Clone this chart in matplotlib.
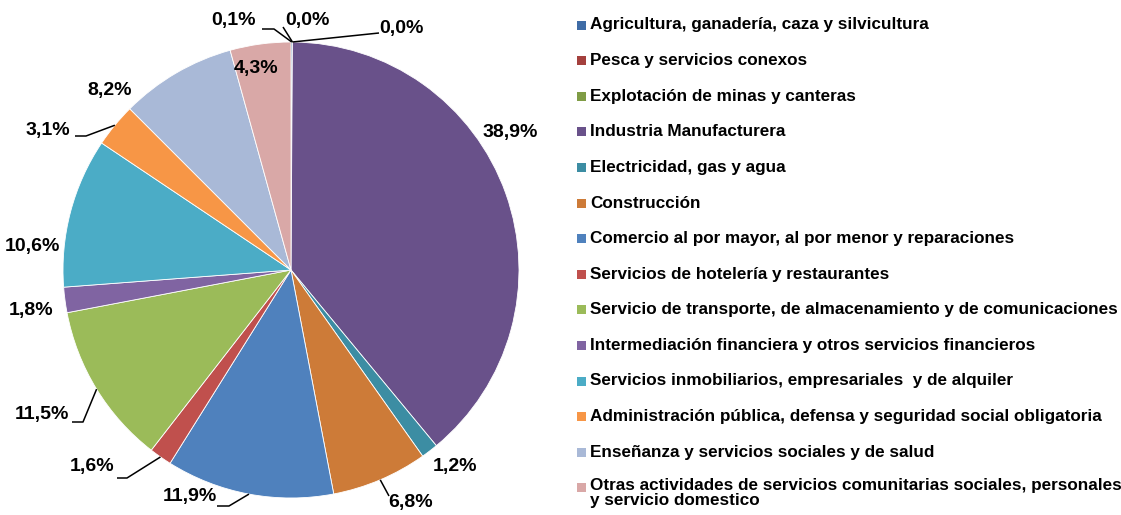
import matplotlib.pyplot as plt
from matplotlib.patches import Rectangle
import numpy as np

# Participación por actividad económica (%)
categories = [
    'Agricultura, ganadería, caza y silvicultura',
    'Pesca y servicios conexos',
    'Explotación de minas y canteras',
    'Industria Manufacturera',
    'Electricidad, gas y agua',
    'Construcción',
    'Comercio al por mayor, al por menor y reparaciones',
    'Servicios de hotelería y restaurantes',
    'Servicio de transporte, de almacenamiento y de comunicaciones',
    'Intermediación financiera y otros servicios financieros',
    'Servicios inmobiliarios, empresariales  y de alquiler',
    'Administración pública, defensa y seguridad social obligatoria',
    'Enseñanza y servicios sociales y de salud',
    'Otras actividades de servicios comunitarias sociales, personales\ny servicio domestico',
]
shares = [0.1, 0.0, 0.0, 38.9, 1.2, 6.8, 11.9, 1.6, 11.5, 1.8, 10.6, 3.1, 8.2, 4.3]

colors = ['#3F6CA6', '#A4403D', '#7F9C45', '#69518A', '#3C8DA3', '#CD7B38',
          '#4F81BD', '#C0504D', '#9BBB59', '#8064A2', '#4BACC6', '#F79646',
          '#A9B9D7', '#D9A8A7']

W, H = 1121, 515
fig = plt.figure(figsize=(W / 100, H / 100), dpi=100)
ax = fig.add_axes([0, 0, 1, 1])

cx, cy, R = 291, H - 270, 228
wedges, _ = ax.pie(shares, colors=colors, center=(cx, cy), radius=R,
                   startangle=90, counterclock=False,
                   wedgeprops=dict(linewidth=0.6, edgecolor='white'))
ax.set_xlim(0, W)
ax.set_ylim(0, H)
ax.set_aspect('equal', adjustable='box')
ax.axis('off')

# label positions in pixels (x, y from top) and leader line bend points
label_pos = [(233, 21), (307, 21), (401, 29), (510, 132), (455, 467), (411, 503),
             (190, 497), (92, 467), (42, 414), (31, 311), (32, 246), (48, 130),
             (110, 90), (256, 68)]
leaders = {
    0: [(262, 29), (274, 29)],
    1: [(283, 27)],
    2: [(379, 33)],
    5: [(389, 496)],
    6: [(217, 506), (229, 506)],
    7: [(117, 478), (127, 478)],
    8: [(72, 422), (83, 422)],
    11: [(75, 136), (86, 136)],
}

fs = 14
for i, (w, v) in enumerate(zip(wedges, shares)):
    txt = f'{v:.1f}%'.replace('.', ',')
    px, py = label_pos[i]
    ax.text(px, H - py, txt, ha='center', va='center', fontsize=fs,
            fontweight='bold', family='Liberation Sans')
    if i in leaders:
        ang = np.deg2rad((w.theta1 + w.theta2) / 2)
        ex, ey = cx + R * np.cos(ang), cy + R * np.sin(ang)
        pts = [(x, H - y) for x, y in leaders[i]] + [(ex, ey)]
        xs, ys = zip(*pts)
        ax.plot(xs, ys, color='black', lw=1.1, solid_capstyle='butt')

# legend
ly0, dy = 25, 35.6
lfs = 12.3
for i, (lab, c) in enumerate(zip(categories, colors)):
    y = ly0 + i * dy
    ax.add_patch(Rectangle((577, H - y - 4.5), 9, 9, color=c, lw=0))
    if '\n' in lab:
        ax.text(590, H - y + 9.5, lab, ha='left', va='top', fontsize=lfs,
                fontweight='bold', family='Liberation Sans', linespacing=1.0)
    else:
        ax.text(590, H - y, lab, ha='left', va='center', fontsize=lfs,
                fontweight='bold', family='Liberation Sans')

fig.savefig('out.png', dpi=100)
